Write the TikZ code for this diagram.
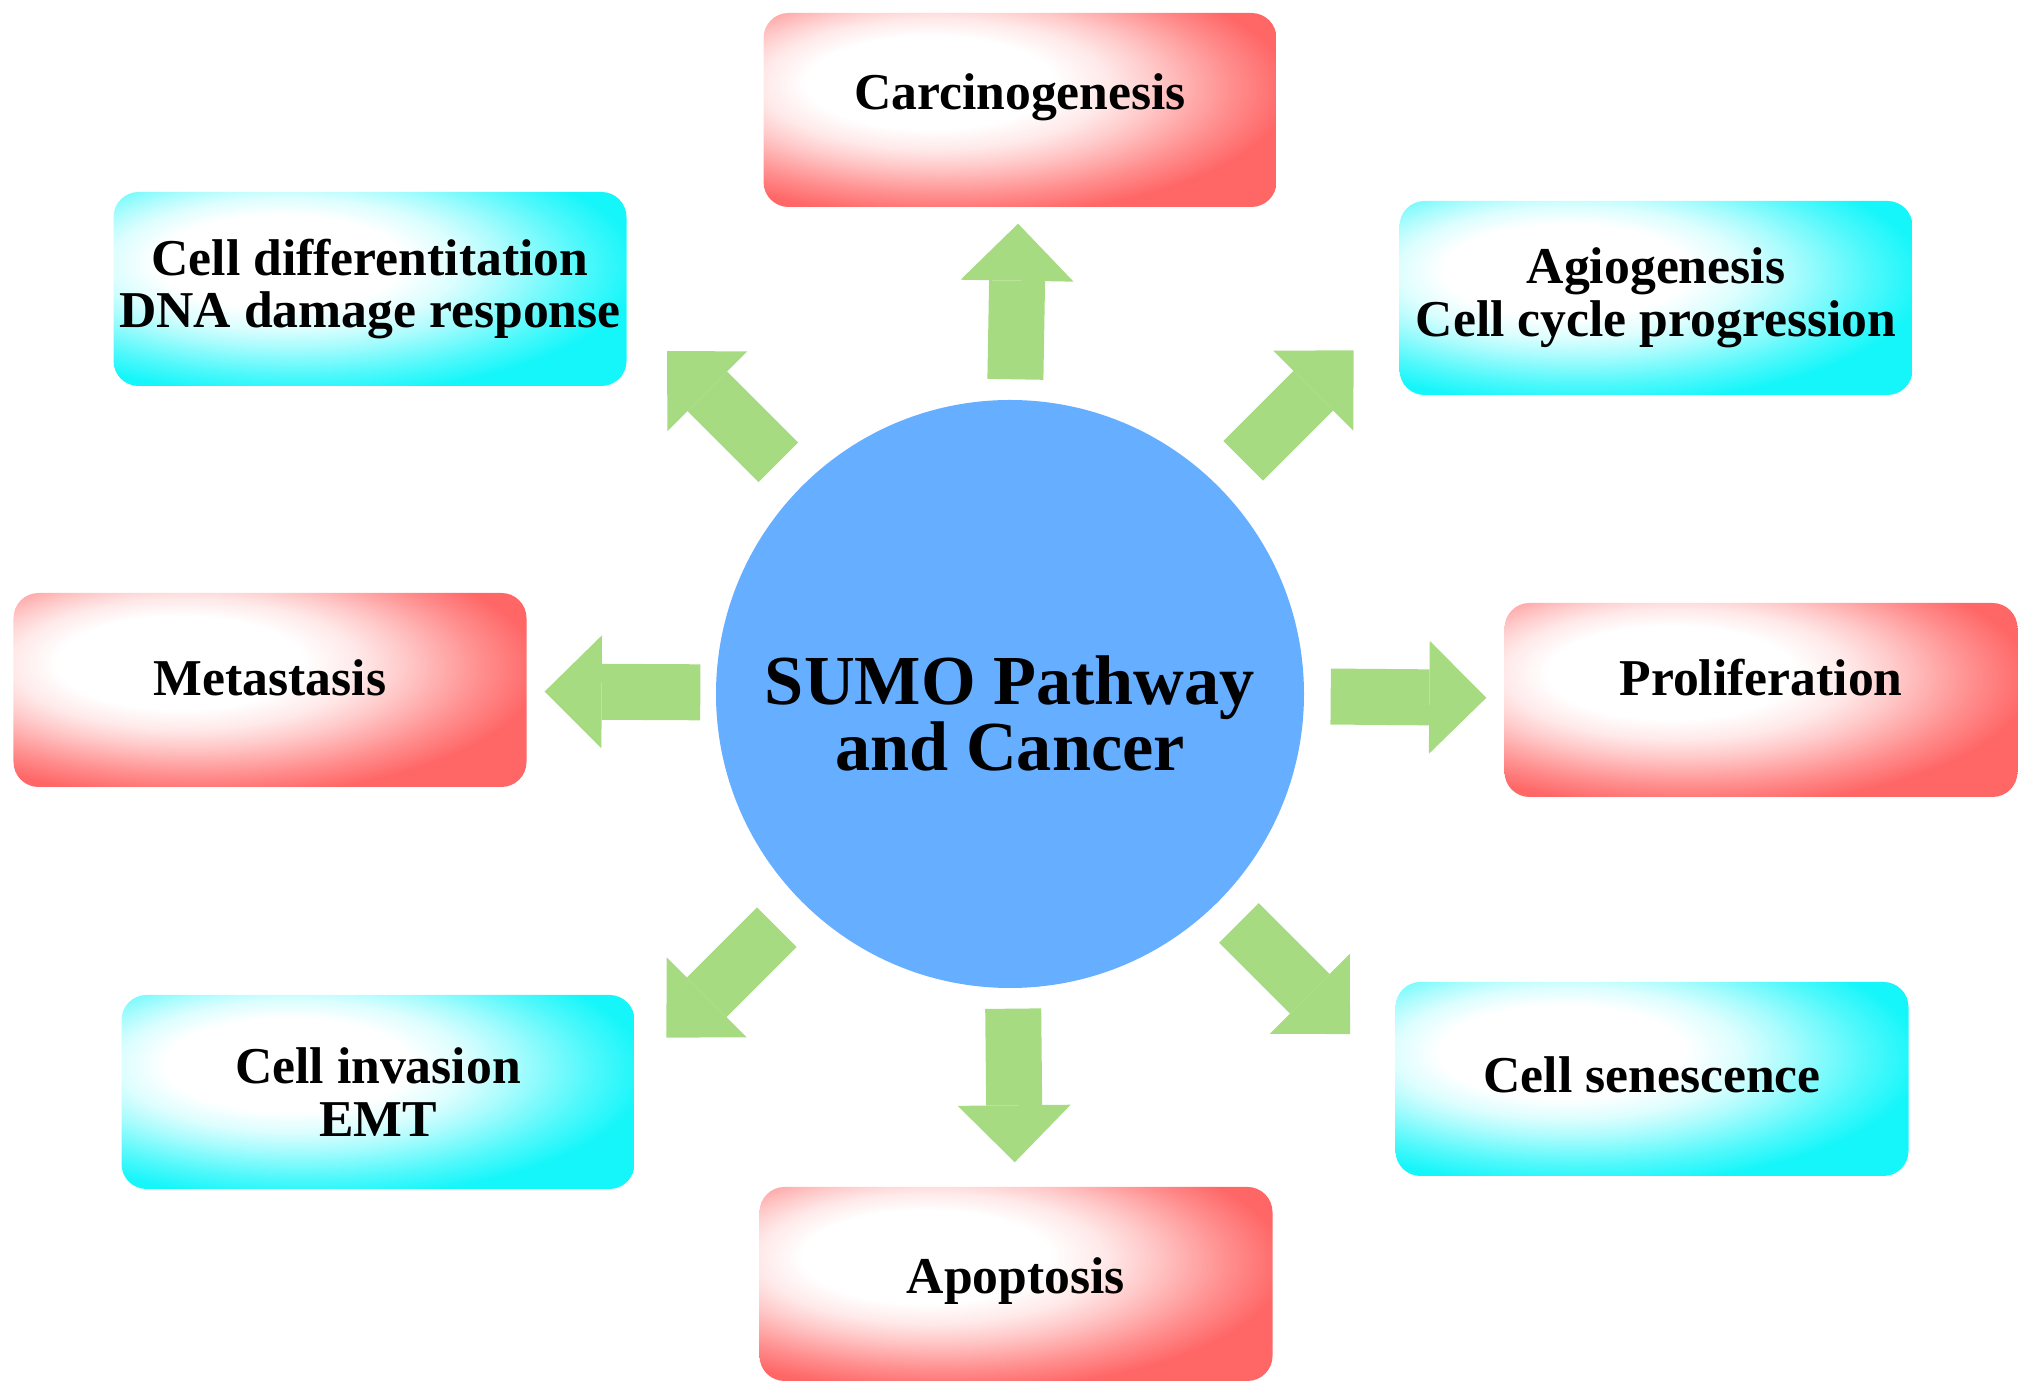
\documentclass[tikz,border=0pt]{standalone}
\usepackage{fontspec}
\setmainfont{Liberation Serif}
\usetikzlibrary{arrows.meta, calc}

\definecolor{sumoblue}{RGB}{102,174,255}
\definecolor{flowgreen}{RGB}{166,219,130}
\definecolor{boxred}{RGB}{255,102,102}
\definecolor{boxcyan}{RGB}{20,246,250}

\pgfdeclareradialshading{redglow}{\pgfpoint{-10bp}{8bp}}{color(0bp)=(white); color(12bp)=(white); color(17bp)=(boxred!15); color(21bp)=(boxred!35); color(28bp)=(boxred!75); color(33bp)=(boxred); color(100bp)=(boxred)}
\pgfdeclareradialshading{cyanglow}{\pgfpoint{-10bp}{8bp}}{color(0bp)=(white); color(12bp)=(white); color(17bp)=(boxcyan!15); color(21bp)=(boxcyan!35); color(28bp)=(boxcyan!75); color(33bp)=(boxcyan); color(100bp)=(boxcyan)}

\begin{document}
\begin{tikzpicture}[
  outcome/.style={rounded corners=2.5mm, minimum width=5.13cm, minimum height=1.94cm, inner sep=0pt, align=center, font=\fontsize{14.7}{15}\selectfont\bfseries},
  redbox/.style={outcome, shading=redglow},
  cyanbox/.style={outcome, shading=cyanglow},
  hub/.style={circle, fill=sumoblue, minimum size=5.88cm, inner sep=0pt, align=center, font=\fontsize{20}{19}\selectfont\bfseries},
  flow/.style={draw=flowgreen, line width=5.6mm, -{Triangle[length=5.7mm, width=11.3mm, line width=0pt 0 0]}}
]
\useasboundingbox (0,0) rectangle (20.31,13.94);

% outcome boxes
\node[redbox, text depth=10.5pt] (carc) at (10.20,12.84) {Carcinogenesis};
\node[cyanbox] (diff) at (3.70,11.05) {Cell differentitation\\DNA damage response};
\node[cyanbox] (angio) at (16.56,10.96) {Agiogenesis\\Cell cycle progression};
\node[redbox, text depth=7.1pt] (meta) at (2.70,7.04) {Metastasis};
\node[redbox, text depth=12.9pt] (prolif) at (17.61,6.94) {Proliferation};
\node[cyanbox] (invas) at (3.78,3.02) {Cell invasion\\EMT};
\node[cyanbox, text depth=2.5pt] (senes) at (16.52,3.15) {Cell senescence};
\node[redbox, text depth=4.9pt] (apop) at (10.16,1.10) {Apoptosis};

% centre
\node[hub, text height=44pt] (sumo) at (10.10,7.00) {SUMO Pathway\\and Cancer};

\coordinate (ulEnd) at ($(sumo.center)+(135:4.85)$);
\coordinate (urEnd) at ($(sumo.center)+(45:4.86)$);
\coordinate (llEnd) at ($(sumo.center)+(225:4.86)$);
\coordinate (lrEnd) at ($(sumo.center)+(315:4.81)$);

% arrows
\draw[flow, shorten <=2mm, shorten >=1.6mm] (sumo) -- (carc);
\draw[flow, shorten <=2mm, shorten >=2.4mm] (sumo) -- (apop);
\draw[flow, shorten <=1.5mm, shorten >=1.75mm] (sumo) -- (meta);
\draw[flow, shorten <=2.6mm, shorten >=1.75mm] (sumo) -- (prolif);
\draw[flow, shorten <=3.3mm] (sumo) -- (ulEnd);
\draw[flow, shorten <=3.5mm] (sumo) -- (urEnd);
\draw[flow, shorten <=3.5mm] (sumo) -- (llEnd);
\draw[flow, shorten <=2.9mm] (sumo) -- (lrEnd);
\end{tikzpicture}
\end{document}
